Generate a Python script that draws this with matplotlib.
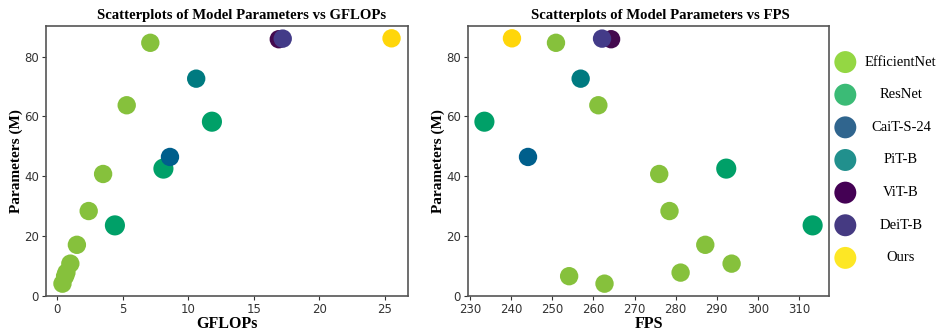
import numpy as np
import matplotlib
matplotlib.use("Agg")
import matplotlib.pyplot as plt

# model families and their (GFLOPs, params, FPS) points
models = ["EfficientNet", "ResNet", "CaiT-S-24", "PiT-B", "ViT-B", "DeiT-B", "Ours"]

gflops = {
    "EfficientNet": [0.4, 0.6, 0.7, 1.0, 1.5, 2.4, 3.5, 5.3, 7.1],
    "ResNet": [4.4, 8.1, 11.8],
    "CaiT-S-24": [8.6],
    "PiT-B": [10.6],
    "ViT-B": [16.9],
    "DeiT-B": [17.2],
    "Ours": [25.5],
}
params = {
    "EfficientNet": [4.0, 6.5, 7.7, 10.7, 17.0, 28.3, 40.7, 63.7, 84.6],
    "ResNet": [23.5, 42.5, 58.2],
    "CaiT-S-24": [46.4],
    "PiT-B": [72.6],
    "ViT-B": [85.8],
    "DeiT-B": [86.0],
    "Ours": [86.1],
}
fps = {
    "EfficientNet": [262.7, 254.1, 281.2, 293.6, 287.2, 278.5, 276.0, 261.2, 250.9],
    "ResNet": [313.3, 292.3, 233.5],
    "CaiT-S-24": [244.1],
    "PiT-B": [256.9],
    "ViT-B": [264.3],
    "DeiT-B": [262.1],
    "Ours": [240.2],
}

point_colors = ["#86c13c", "#00a068", "#005f8c", "#007a80", "#440a4f", "#433b88", "#ffd60a"]
legend_colors = ["#94d743", "#3bbb76", "#30658e", "#21908d", "#440154", "#453a82", "#fde725"]
sizes = [175, 210, 175, 175, 175, 175, 175]

serif = "Liberation Serif"
plt.rcParams["font.family"] = "DejaVu Sans"

fig = plt.figure(figsize=(9.39, 3.34), dpi=100)
ax1 = fig.add_axes([0.049, 0.114, 0.3855, 0.808])
ax2 = fig.add_axes([0.4984, 0.114, 0.3845, 0.808])

for m, c, s in zip(models, point_colors, sizes):
    ax1.scatter(gflops[m], params[m], s=s, color=c, edgecolors="none")
    ax2.scatter(fps[m], params[m], s=s, color=c, edgecolors="none")

ax1.set_title("Scatterplots of Model Parameters vs GFLOPs", fontfamily=serif,
              fontweight="bold", fontsize=10.6, pad=5, x=0.539)
ax1.set_xlabel("GFLOPs", fontfamily=serif, fontweight="bold", fontsize=11.5, labelpad=0)
ax1.set_ylabel("Parameters (M)", fontfamily=serif, fontweight="bold", fontsize=11, labelpad=1)
ax1.set_xticks([0, 5, 10, 15, 20, 25])

ax2.set_title("Scatterplots of Model Parameters vs FPS", fontfamily=serif,
              fontweight="bold", fontsize=10.6, pad=5, x=0.532)
ax2.set_xlabel("FPS", fontfamily=serif, fontweight="bold", fontsize=11.5, labelpad=0)
ax2.set_ylabel("Parameters (M)", fontfamily=serif, fontweight="bold", fontsize=11, labelpad=1)
ax2.set_xticks(np.arange(230, 311, 10))

for ax in (ax1, ax2):
    ax.set_yticks([0, 20, 40, 60, 80])
    ax.tick_params(labelsize=8.5, colors="#333333", length=3, pad=2)
    for sp in ax.spines.values():
        sp.set_color("#555555")
        sp.set_linewidth(1.2)

# legend drawn in its own axes so the labels can be centred
axl = fig.add_axes([0.884, 0.179, 0.116, 0.684])
axl.set_xlim(0, 1)
axl.set_ylim(len(models) - 0.5, -0.5)
axl.axis("off")
idx = np.arange(len(models))
axl.scatter(np.full(len(models), 0.14), idx, s=250, color=legend_colors, edgecolors="none",
            clip_on=False)
for i, m in enumerate(models):
    axl.text(0.65, i, m, ha="center", va="center", fontfamily=serif, fontsize=10.5)

fig.savefig("out.png", dpi=100)
